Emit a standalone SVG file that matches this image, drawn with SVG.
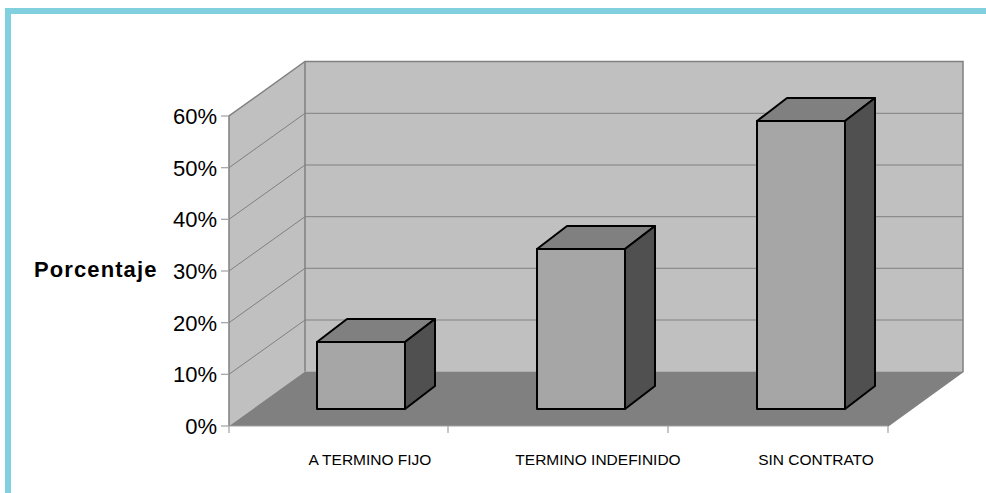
<svg xmlns="http://www.w3.org/2000/svg" width="986" height="493" viewBox="0 0 986 493">
<style>
.wall{fill:#c0c0c0;stroke:none}
.floor{fill:#808080;stroke:none}
.edge{fill:none;stroke:#808080;stroke-width:1.5}
.grid{fill:none;stroke:#808080;stroke-width:1}
.axis{fill:none;stroke:#a0a0a0;stroke-width:1.2}
.front{fill:#a6a6a6;stroke:#000;stroke-width:2;stroke-linejoin:round}
.top{fill:#808080;stroke:#000;stroke-width:2;stroke-linejoin:round}
.side{fill:#505050;stroke:#000;stroke-width:2;stroke-linejoin:round}
.ylab{font-family:"Liberation Sans",Arial,sans-serif;font-size:22px;fill:#000;text-anchor:end}
.xlab{font-family:"Liberation Sans",Arial,sans-serif;font-size:15.5px;fill:#000;text-anchor:middle}
.title{font-family:"Liberation Sans",Arial,sans-serif;font-size:22px;font-weight:bold;letter-spacing:1.1px;fill:#000}
</style>
<rect x="0" y="0" width="986" height="493" fill="#fff"/>
<g id="frame">
<rect x="5" y="8" width="981" height="6" fill="#80d0e0"/>
<rect x="5" y="8" width="6" height="485" fill="#80d0e0"/>
</g>
<g id="plot-area">
<polygon class="wall" points="229,116 305,61.5 305,371.5 229,426"/>
<rect class="wall" x="305" y="61.5" width="658" height="310"/>
<polygon class="floor" points="229,426 305,371.5 963,371.5 888,426"/>
<g class="grid">
<line x1="305" y1="113.3" x2="963" y2="113.3"/>
<line x1="305" y1="165" x2="963" y2="165"/>
<line x1="305" y1="216.7" x2="963" y2="216.7"/>
<line x1="305" y1="268.3" x2="963" y2="268.3"/>
<line x1="305" y1="320" x2="963" y2="320"/>
<line x1="229" y1="167.7" x2="305" y2="113.3"/>
<line x1="229" y1="219.3" x2="305" y2="165"/>
<line x1="229" y1="271" x2="305" y2="216.7"/>
<line x1="229" y1="322.7" x2="305" y2="268.3"/>
<line x1="229" y1="374.3" x2="305" y2="320"/>
</g>
<polyline class="edge" points="229,426 229,116 305,61.5 963,61.5 963,371.5 888,426"/>
<line class="edge" x1="305" y1="61.5" x2="305" y2="371.5"/>
<g class="axis">
<line x1="229" y1="426" x2="888" y2="426"/>
<line x1="448" y1="426" x2="448" y2="433"/>
<line x1="668" y1="426" x2="668" y2="433"/>
<line x1="888" y1="426" x2="888" y2="433"/>
<line x1="229" y1="426" x2="229" y2="433"/>
<line x1="221" y1="116" x2="229" y2="116"/>
<line x1="221" y1="167.7" x2="229" y2="167.7"/>
<line x1="221" y1="219.3" x2="229" y2="219.3"/>
<line x1="221" y1="271" x2="229" y2="271"/>
<line x1="221" y1="322.7" x2="229" y2="322.7"/>
<line x1="221" y1="374.3" x2="229" y2="374.3"/>
<line x1="221" y1="426" x2="229" y2="426"/>
</g>
</g>
<g id="y-axis-labels">
<text class="ylab" x="217" y="124">60%</text>
<text class="ylab" x="217" y="175.7">50%</text>
<text class="ylab" x="217" y="227.3">40%</text>
<text class="ylab" x="217" y="279">30%</text>
<text class="ylab" x="217" y="330.7">20%</text>
<text class="ylab" x="217" y="382.3">10%</text>
<text class="ylab" x="217" y="434">0%</text>
</g>
<g id="y-title">
<text class="title" x="34" y="277">Porcentaje</text>
</g>
<g id="bar-a-termino-fijo">
<polygon class="top" points="317,342 347,319 435,319 405,342"/>
<polygon class="side" points="405,342 435,319 435,386 405,409"/>
<rect class="front" x="317" y="342" width="88" height="67"/>
</g>
<g id="bar-termino-indefinido">
<polygon class="top" points="537,249 567,226 655,226 625,249"/>
<polygon class="side" points="625,249 655,226 655,386 625,409"/>
<rect class="front" x="537" y="249" width="88" height="160"/>
</g>
<g id="bar-sin-contrato">
<polygon class="top" points="757,121 787,98 875,98 845,121"/>
<polygon class="side" points="845,121 875,98 875,386 845,409"/>
<rect class="front" x="757" y="121" width="88" height="288"/>
</g>
<g id="x-axis-labels">
<text class="xlab" x="370" y="465">A TERMINO FIJO</text>
<text class="xlab" x="598" y="465">TERMINO INDEFINIDO</text>
<text class="xlab" x="816" y="465">SIN CONTRATO</text>
</g>
</svg>
